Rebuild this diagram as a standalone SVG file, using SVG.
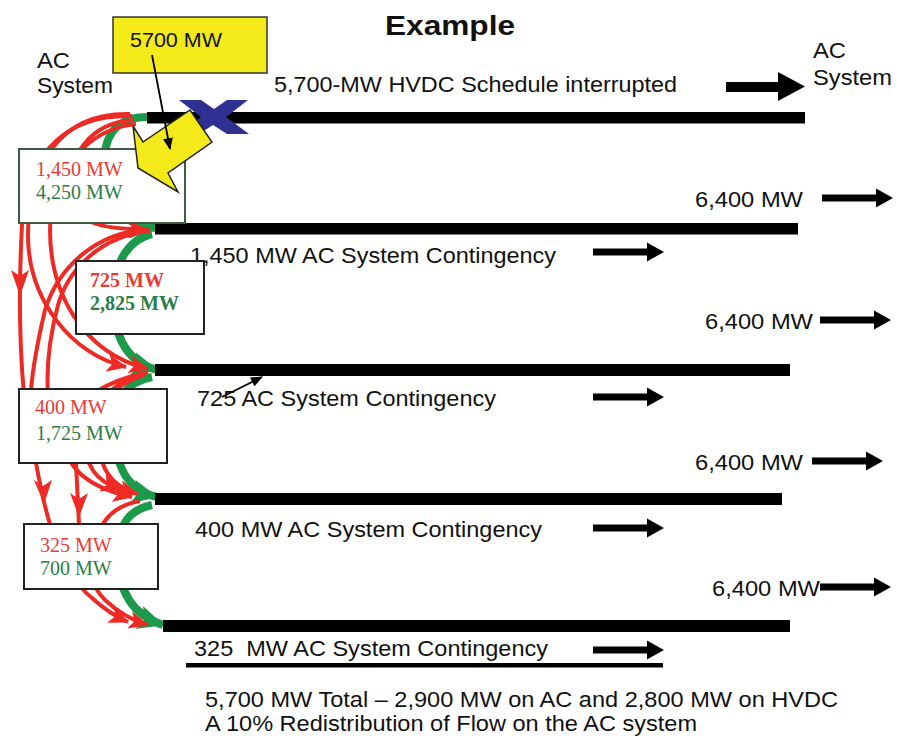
<svg xmlns="http://www.w3.org/2000/svg" width="900" height="743" viewBox="0 0 900 743">
<style>
.s{font-family:"Liberation Sans",Arial,sans-serif;font-size:22px;fill:#111}
.ti{font-family:"Liberation Sans",Arial,sans-serif;font-size:28px;font-weight:bold;fill:#111}
.t{font-family:"Liberation Serif","Times New Roman",serif;font-size:20px}
.tb{font-family:"Liberation Serif","Times New Roman",serif;font-size:20px;font-weight:bold}
.r{fill:#ec3b34}
.g{fill:#2a7d47}
.red{fill:none;stroke:#ee2a24;stroke-width:4}
.grn{fill:none;stroke:#1b9a4a;stroke-width:8}
.bar{fill:#000}
.box{fill:#fff;stroke:#222;stroke-width:2}
.redh{fill:#ee2a24}
</style>
<defs>
<marker id="mr" markerUnits="userSpaceOnUse" markerWidth="20" markerHeight="18" viewBox="0 0 20 18" refX="19" refY="9" orient="auto"><path d="M0,0 L20,9 L0,18 L5,9 Z" fill="#ee2a24"/></marker>
<marker id="mg" markerUnits="userSpaceOnUse" markerWidth="26" markerHeight="24" viewBox="0 0 26 24" refX="25" refY="12" orient="auto"><path d="M0,0 L26,12 L0,24 L6,12 Z" fill="#1b9a4a"/></marker>
<marker id="mk" markerUnits="userSpaceOnUse" markerWidth="12" markerHeight="10" viewBox="0 0 12 10" refX="11" refY="5" orient="auto"><path d="M0,0 L12,5 L0,10 Z" fill="#000"/></marker>
<path id="arr" d="M0,-3.5 H54 V-9.5 L71,0 L54,9.5 V3.5 H0 Z" fill="#000"/>
</defs>
<rect width="900" height="743" fill="#fff"/>

<text class="ti" x="385" y="35" textLength="130" lengthAdjust="spacingAndGlyphs">Example</text>

<g id="labels">
<text class="s" x="37" y="68" textLength="33" lengthAdjust="spacingAndGlyphs">AC</text>
<text class="s" x="37" y="93" textLength="76" lengthAdjust="spacingAndGlyphs">System</text>
<text class="s" x="813" y="58" textLength="33" lengthAdjust="spacingAndGlyphs">AC</text>
<text class="s" x="813" y="85" textLength="79" lengthAdjust="spacingAndGlyphs">System</text>
<text class="s" x="274" y="92" textLength="403" lengthAdjust="spacingAndGlyphs">5,700-MW HVDC Schedule interrupted</text>
<text class="s" x="695" y="207" textLength="108" lengthAdjust="spacingAndGlyphs">6,400 MW</text>
<text class="s" x="705" y="329" textLength="108" lengthAdjust="spacingAndGlyphs">6,400 MW</text>
<text class="s" x="695" y="470" textLength="108" lengthAdjust="spacingAndGlyphs">6,400 MW</text>
<text class="s" x="712" y="596" textLength="108" lengthAdjust="spacingAndGlyphs">6,400 MW</text>
<text class="s" x="190" y="263" textLength="366" lengthAdjust="spacingAndGlyphs">1,450 MW AC System Contingency</text>
<text class="s" x="197" y="406" textLength="299" lengthAdjust="spacingAndGlyphs">725 AC System Contingency</text>
<text class="s" x="195" y="537" textLength="347" lengthAdjust="spacingAndGlyphs">400 MW AC System Contingency</text>
<text class="s" x="194" y="656" xml:space="preserve" textLength="354" lengthAdjust="spacingAndGlyphs">325  MW AC System Contingency</text>
<text class="s" x="205" y="707" textLength="633" lengthAdjust="spacingAndGlyphs">5,700 MW Total – 2,900 MW on AC and 2,800 MW on HVDC</text>
<text class="s" x="205" y="731" textLength="492" lengthAdjust="spacingAndGlyphs">A 10% Redistribution of Flow on the AC system</text>
</g>

<g id="flow-arrows">
<path d="M726,82 H778 V72 L805,86.5 L778,101 V92 H726 Z" fill="#000"/>
<use href="#arr" x="822" y="198"/>
<use href="#arr" x="820" y="320"/>
<use href="#arr" x="812" y="461"/>
<use href="#arr" x="820" y="587"/>
<use href="#arr" x="593" y="252"/>
<use href="#arr" x="593" y="397"/>
<use href="#arr" x="593" y="528"/>
<use href="#arr" x="593" y="650"/>
<rect x="186" y="663" width="477" height="4.5" fill="#000"/>
</g>

<g id="connectors">
<path class="grn" d="M148,117 C112,117 104,140 104,165 C104,200 122,226 155,228" marker-end="url(#mg)"/>
<path class="grn" d="M152,234 C125,240 112,270 113,300 C114,335 126,362 157,370" marker-end="url(#mg)"/>
<path class="grn" d="M152,377 C125,382 115,400 115,430 C115,465 126,490 157,497" marker-end="url(#mg)"/>
<path class="grn" d="M152,505 C128,510 118,525 118,555 C118,590 132,615 163,625" marker-end="url(#mg)"/>

<path class="red" d="M132,116 C70,114 26,150 22,225 C19,280 19,340 24,395 L36,463 C40,485 44,505 50,524 C62,560 75,585 92,598 C103,608 114,616 128,622" marker-end="url(#mr)"/>
<path class="red" d="M134,120 C88,122 66,160 70,195 C74,222 100,230 147,229" marker-end="url(#mr)"/>
<path class="red" d="M136,124 C90,128 50,170 50,230 C50,290 80,352 148,369" marker-end="url(#mr)"/>
<path class="red" d="M130,114 C60,112 28,165 28,235 C28,300 72,355 126,367" marker-end="url(#mr)"/>
<path class="red" d="M150,231 C100,236 68,270 58,305 C50,335 46,365 48,395 C60,430 72,450 76,463 L79,524 C82,570 95,590 105,600 C118,612 130,620 148,625" marker-end="url(#mr)"/>
<path class="red" d="M150,229 C95,232 58,268 45,310 C38,340 33,365 31,390"/>
<path class="red" d="M146,374 C118,378 100,395 98,425 C97,460 105,485 138,494" marker-end="url(#mr)"/>
<path class="red" d="M148,372 C110,380 70,400 65,430 C60,455 75,485 132,497" marker-end="url(#mr)"/>
<path class="red" d="M143,375 C115,385 85,410 85,440 C85,465 95,480 120,490" marker-end="url(#mr)"/>
<path class="red" d="M140,501 C118,505 106,515 100,530"/>
<polygon class="redh" points="11,270 20,276 29,270 20,296"/>
<polygon class="redh" points="34,480 43,486 52,480 44,504"/>
<polygon class="redh" points="70,493 79,499 88,493 79,517"/>
<line x1="222" y1="397" x2="262" y2="377" stroke="#000" stroke-width="1.8" marker-end="url(#mk)"/>
</g>

<g id="bars">
<rect class="bar" x="147" y="112" width="658" height="11.5"/>
<rect class="bar" x="155" y="223" width="643" height="11.5"/>
<rect class="bar" x="155" y="364" width="635" height="12"/>
<rect class="bar" x="155" y="493" width="627" height="12"/>
<rect class="bar" x="163" y="620" width="627" height="12"/>
</g>

<g id="outage-x">
<polygon points="179,100 201,100 214,109 227,100 248,100 226,117 249,134 227,134 213,125 199,134 178,134 201,117" fill="#2e3192"/>
</g>

<g id="box-1450">
<rect class="box" x="19" y="149" width="166" height="74" style="stroke:#3d5a42"/>
<text class="t r" x="36" y="176">1,450 MW</text>
<text class="t g" x="36" y="199">4,250 MW</text>
</g>

<g id="box-725">
<rect class="box" x="76" y="261" width="128" height="73"/>
<text class="tb r" x="90" y="287">725 MW</text>
<text class="tb g" x="90" y="310">2,825 MW</text>
</g>

<g id="box-400">
<rect class="box" x="19" y="389" width="148" height="74"/>
<text class="t r" x="35" y="414">400 MW</text>
<text class="t g" x="36" y="440">1,725 MW</text>
</g>

<g id="box-325">
<rect class="box" x="24" y="524" width="134" height="65"/>
<text class="t r" x="40" y="552">325 MW</text>
<text class="t g" x="40" y="575">700 MW</text>
</g>

<g id="callout-5700">
<polygon points="133,126 143,142 190,110 212,142 168,173 178,192 138,168" fill="#f4ea1a" stroke="#222" stroke-width="1.5"/>
<rect x="113" y="17" width="154" height="56" fill="#f4ea1a" stroke="#333" stroke-width="1.5"/>
<text class="s" x="130" y="47" style="font-size:21px" textLength="92" lengthAdjust="spacingAndGlyphs">5700 MW</text>
<line x1="152" y1="55" x2="170" y2="149" stroke="#000" stroke-width="1.8" marker-end="url(#mk)"/>
</g>
</svg>
